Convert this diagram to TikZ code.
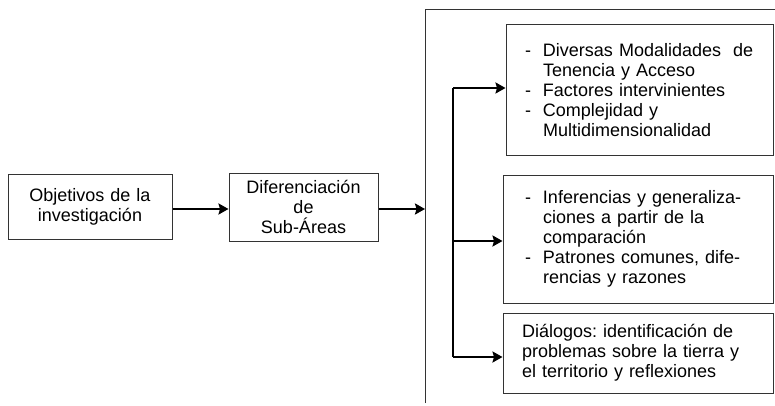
\documentclass[tikz,border=0pt]{standalone}
\usepackage{fontspec}
\setmainfont{Liberation Sans}
\usetikzlibrary{arrows.meta}
\newcommand\dashitem[1]{\makebox[18pt][l]{-}#1}
\newcommand\cont[1]{\hspace*{18pt}#1}
\frenchspacing
\begin{document}
\begin{tikzpicture}[x=1pt,y=-1pt,
  box/.style={draw=black!80,line width=1pt,rectangle,inner ysep=0pt,
    font=\fontsize{18}{20}\selectfont},
  lbox/.style={box,align=left,inner xsep=#1},
  conn/.style={line width=2.4pt,-{Stealth[length=10pt,width=11pt,inset=1.5pt]}},
  frame/.style={line width=1pt,draw=black!80}]
\useasboundingbox (0,0) rectangle (775,406);
\node[box,align=center,minimum width=164pt,minimum height=65pt,text width=150pt] (obj) at (90,206.5) {Objetivos de la\\investigación};
\node[box,align=center,minimum width=149pt,minimum height=68pt,text width=140pt] (dif) at (303.5,207) {Diferenciación\\de\\Sub-Áreas};
\coordinate (ftl) at (425,10);
\coordinate (fbl) at (425,403);
\coordinate (ftr) at (776,10);
\coordinate (fin) at (425,209);
\draw[frame] (fbl) -- (ftl) -- (ftr);
\node[lbox=19pt,minimum height=131pt,text width=229pt] (b1) at (639.5,90.5) {\dashitem{Diversas Modalidades\ \ de}\\\cont{Tenencia y Acceso}\\\dashitem{Factores intervinientes}\\\dashitem{Complejidad y}\\\cont{Multidimensionalidad}};
\node[lbox=22pt,minimum height=128pt,text width=226pt] (b2) at (638,239) {\dashitem{Inferencias y generaliza-}\\\cont{ciones a partir de la}\\\cont{comparación}\\\dashitem{Patrones comunes, dife-}\\\cont{rencias y razones}};
\node[lbox=19pt,minimum height=80pt,text width=232pt] (b3) at (638,353) {Diálogos: identificación de\\problemas sobre la tierra y\\el territorio y reflexiones};
\coordinate (jA) at (453,88);
\coordinate (jB) at (453,241);
\coordinate (jC) at (453,357);
\draw[conn] (obj.east |- fin) -- (dif.west |- fin);
\draw[conn] (dif.east |- fin) -- (fin);
\draw[line width=2.4pt] (jA) -- (jC);
\draw[conn] (jA) -- (jA -| b1.west);
\draw[conn] (jB) -- (jB -| b2.west);
\draw[conn] (jC) -- (jC -| b3.west);
\end{tikzpicture}
\end{document}
